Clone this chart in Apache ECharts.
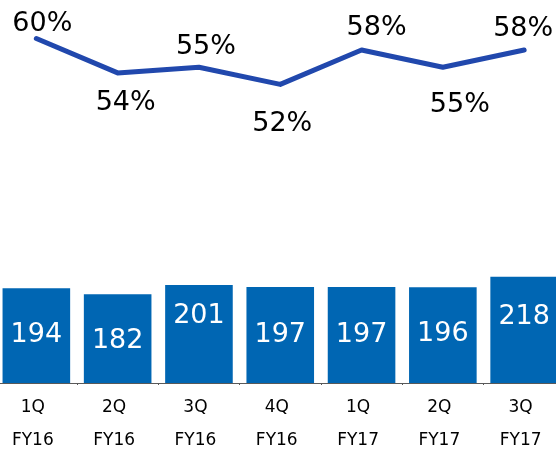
<!DOCTYPE html>
<html>
<head>
<meta charset="utf-8">
<script src="https://cdn.jsdelivr.net/npm/echarts@6/dist/echarts.min.js"></script>
<style>
  html, body { margin: 0; padding: 0; background: #ffffff; }
  #chart { width: 556px; height: 451px; }
</style>
</head>
<body>
<div id="chart"></div>
<script>
// Quarterly figures
const quarters = ['1Q\nFY16', '2Q\nFY16', '3Q\nFY16', '4Q\nFY16', '1Q\nFY17', '2Q\nFY17', '3Q\nFY17'];
const revenue = [194, 182, 201, 197, 197, 196, 218];
const marginPct = [60, 54, 55, 52, 58, 55, 58];

// Label placement (pixels, relative to each mark)
const pctLabelOffsets = [[6, -14], [8, 30], [7, -20], [2, 40], [15, -22], [17, 38], [-1, -21]];
const barLabelDepth = [47, 47, 31, 48, 48, 47, 40];

const FONT = '"DejaVu Sans", Verdana, sans-serif';

const chart = echarts.init(document.getElementById('chart'), null, { renderer: 'canvas' });

chart.setOption({
  animation: false,
  backgroundColor: '#ffffff',
  // Plot area runs slightly past both canvas edges so the outer bars touch the sides
  grid: {
    left: -4.3, right: -8.8, top: 0, bottom: 68,
    containLabel: false,
    outerBoundsMode: 'none'
  },
  xAxis: {
    type: 'category',
    data: quarters,
    boundaryGap: true,
    axisLine: { show: true, lineStyle: { color: '#595959', width: 1 } },
    axisTick: { show: true, length: 2, lineStyle: { color: '#595959' } },
    axisLabel: {
      color: '#000000',
      fontFamily: FONT,
      fontSize: 17,
      lineHeight: 33,
      margin: 8,
      padding: [0, 7, 0, 0],
      interval: 0
    }
  },
  yAxis: [
    { type: 'value', min: 0, max: 785, show: false, splitLine: { show: false } },
    { type: 'value', min: 0, max: 66.7, show: false, splitLine: { show: false } }
  ],
  series: [
    {
      type: 'bar',
      yAxisIndex: 0,
      barWidth: 67.6,
      itemStyle: { color: '#0066b3' },
      data: revenue.map((v, i) => ({
        value: v,
        label: { position: ['50%', barLabelDepth[i]] }
      })),
      label: {
        show: true,
        color: '#ffffff',
        fontFamily: FONT,
        fontSize: 27,
        align: 'center',
        verticalAlign: 'middle'
      }
    },
    {
      type: 'line',
      yAxisIndex: 1,
      symbol: 'circle',
      symbolSize: 1,
      showSymbol: true,
      itemStyle: { color: '#2148ad' },
      lineStyle: { color: '#2148ad', width: 5, cap: 'round', join: 'round' },
      data: marginPct.map((v, i) => ({
        value: v,
        label: { offset: pctLabelOffsets[i] }
      })),
      label: {
        show: true,
        position: 'inside',
        formatter: '{c}%',
        color: '#000000',
        fontFamily: FONT,
        fontSize: 27,
        align: 'center',
        verticalAlign: 'middle'
      },
      z: 3
    }
  ]
});
</script>
</body>
</html>
